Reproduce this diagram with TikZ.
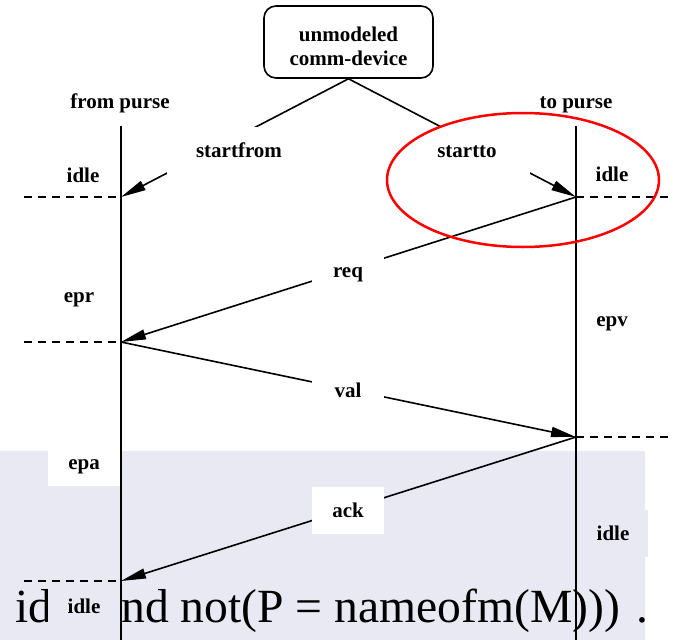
\documentclass[tikz,border=0pt]{standalone}
\usepackage{fontspec}
\setmainfont{Liberation Serif}
\usetikzlibrary{arrows.meta}
\definecolor{lav}{RGB}{233,233,244}
\begin{document}
\begin{tikzpicture}[x=1pt,y=-1pt,
  lbl/.style={font=\bfseries\fontsize{21}{24}\selectfont, anchor=base, inner sep=0pt},
  gapbox/.style={font=\bfseries\fontsize{21}{24}\selectfont, fill=white, inner sep=0pt,
                 text height=14pt, text depth=0pt, minimum width=72pt, minimum height=47pt},
  devbox/.style={draw, rounded corners=12pt, line width=1.6pt, minimum width=169pt, minimum height=72pt},
  life/.style={line width=1.6pt},
  msg/.style={line width=1.6pt, -{Triangle[length=25pt,width=10pt]}},
  statebar/.style={line width=1.6pt, dash pattern=on 8pt off 6pt},
  big/.style={font=\fontsize{47.6}{50}\selectfont, inner sep=0pt}]
\useasboundingbox (0,0) rectangle (673,640);

% shaded strip behind the lower part
\fill[lav] (0,451) rectangle (645,640);
\node[big, anchor=base east] (eqsign) at (2,622) {=};
\node[big, anchor=base west] (txtid) at (15,622) {id};
\node[big, anchor=base west] (txtnot) at (121,622) {nd not(P = nameofm(M)))};
\node[big, anchor=base west] (txtdot) at (636,622) {.};

% device box
\node[devbox] (dev) at (348.5,42) {};
\node[lbl] (devA) at (348.5,41) {unmodeled};
\node[lbl] (devB) at (348.5,65) {comm-device};

% lifeline points
\coordinate (f0) at (121,126);
\coordinate (f1) at (121,197);
\coordinate (f2) at (121,342);
\coordinate (f3) at (121,581);
\coordinate (fb) at (121,640);
\coordinate (t0) at (576,126);
\coordinate (t1) at (576,197);
\coordinate (t2) at (576,437);
\coordinate (tb) at (576,640);
\coordinate (fl1) at (24,197);
\coordinate (fl2) at (24,342);
\coordinate (fl3) at (24,581);
\coordinate (tr1) at (668,197);
\coordinate (tr2) at (668,437);

% lifelines
\draw[life] (f0) -- (fb);
\draw[life] (t0) -- (tb);

% state boundaries
\draw[statebar] (fl1) -- (f1);
\draw[statebar] (fl2) -- (f2);
\draw[statebar] (fl3) -- (f3);
\draw[statebar] (t1) -- (tr1);
\draw[statebar] (t2) -- (tr2);

% start signals and messages
\draw[msg] (dev.south) -- (f1);
\draw[msg] (dev.south) -- (t1);
\draw[msg] (t1) -- (f2);
\draw[msg] (f2) -- (t2);
\draw[msg] (t2) -- (f3);

% labels that break the lines
\node[gapbox, minimum width=144pt] (startfrom) at (239,150) {startfrom};
\node[gapbox, minimum width=126pt] (startto) at (467,150) {startto};
\node[gapbox] (req) at (348,270) {req};
\node[gapbox] (val) at (348,390) {val};
\node[gapbox] (ack) at (348,510) {ack};
\node[gapbox] (epa) at (84,462) {epa};
\node[gapbox, fill=lav, minimum width=70pt] (idleR2) at (613,533) {idle};
\node[gapbox, fill=lav] (idleL2) at (84,606) {idle};

% plain labels
\node[lbl] (fromp) at (120,108) {from purse};
\node[lbl] (top) at (576,108) {to purse};
\node[lbl] (idleL1) at (83,182) {idle};
\node[lbl] (idleR1) at (612,181) {idle};
\node[lbl] (epr) at (79,302) {epr};
\node[lbl] (epv) at (612,326) {epv};

% highlight
\draw[red, line width=2.5pt] (523,180) ellipse [x radius=136pt, y radius=67pt];
\end{tikzpicture}
\end{document}
